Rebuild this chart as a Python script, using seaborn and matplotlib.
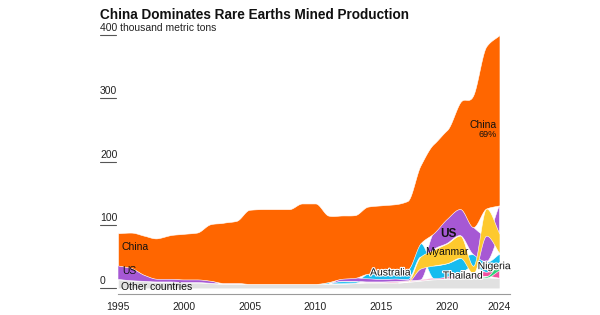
import numpy as np
import pandas as pd
import matplotlib
matplotlib.use("Agg")
import matplotlib.pyplot as plt
import matplotlib.transforms as mtransforms
import matplotlib.patheffects as pe
import seaborn as sns

# rare earths mine production, thousand metric tons
years = list(range(1995, 2025))
other = [14, 12, 11, 10, 10, 9, 9, 8, 7, 7, 7, 7, 7, 7, 7, 7, 7, 7, 8, 9,
         9, 9, 10, 12, 14, 15, 16, 16, 17, 16]
thailand = [0, 0, 0, 0, 0, 0, 0, 0, 1.5, 1.5, 0, 0, 0, 0, 0, 0, 0.8, 1, 1, 1,
            1, 1.6, 1.3, 1.2, 2, 3.6, 8.2, 7.1, 7.1, 13]
nigeria = [0] * 27 + [0.5, 2, 13]
australia = [0] * 16 + [2, 3, 2, 8, 10, 14, 16, 21, 20, 21, 24, 18, 16, 13]
myanmar = [0] * 22 + [0.5, 19, 25, 31, 35, 12, 43, 31]
us = [22, 20, 10, 5, 5, 5, 5, 4, 0, 0, 0, 0, 0, 0, 0, 0, 0, 4, 5.5, 5,
      4, 4, 2, 18, 26, 39, 42, 43, 41, 45]
china = [51, 56, 62, 64, 69, 72, 74, 89, 95, 98, 117, 118, 118, 118, 127, 127,
         105, 100, 99, 106, 107, 104, 108, 123, 141, 140, 168, 208, 256, 269]

colors = {
    "Other countries": "#e1e1e1",
    "Thailand": "#f0509f",
    "Nigeria": "#2fd27a",
    "Australia": "#17bcef",
    "US": "#a658d4",
    "Myanmar": "#fdc92e",
    "China": "#ff6600",
}
middle = ["Thailand", "Nigeria", "Australia", "US", "Myanmar"]

df = pd.DataFrame({"Other countries": other, "Thailand": thailand, "Nigeria": nigeria,
                   "Australia": australia, "US": us, "Myanmar": myanmar,
                   "China": china}, index=years, dtype=float)


def pchip(x, y, xf):
    # monotone cubic interpolation (Fritsch-Carlson)
    x = np.asarray(x, float)
    y = np.asarray(y, float)
    h = np.diff(x)
    d = np.diff(y) / h
    m = np.zeros_like(y)
    m[0], m[-1] = d[0], d[-1]
    for k in range(1, len(y) - 1):
        if d[k - 1] * d[k] > 0:
            w1 = 2 * h[k] + h[k - 1]
            w2 = h[k] + 2 * h[k - 1]
            m[k] = (w1 + w2) / (w1 / d[k - 1] + w2 / d[k])
    i = np.clip(np.searchsorted(x, xf) - 1, 0, len(x) - 2)
    t = (xf - x[i]) / h[i]
    h00 = 2 * t**3 - 3 * t**2 + 1
    h10 = t**3 - 2 * t**2 + t
    h01 = -2 * t**3 + 3 * t**2
    h11 = t**3 - t**2
    return h00 * y[i] + h10 * h[i] * m[i] + h01 * y[i + 1] + h11 * h[i] * m[i + 1]


# ranked stacking: other at the bottom, china on top, the rest sorted by size each year
bottoms = pd.DataFrame(0.0, index=years, columns=df.columns)
for yr in years:
    base = df.loc[yr, "Other countries"]
    for name in sorted(middle, key=lambda n: (df.loc[yr, n], middle.index(n))):
        bottoms.loc[yr, name] = base
        base += df.loc[yr, name]
    bottoms.loc[yr, "China"] = base

sns.set_theme(style="white")
plt.rcParams["font.family"] = ["Liberation Sans", "DejaVu Sans"]

fig = plt.figure(figsize=(6, 3.15), dpi=100)
ax = fig.add_axes([118 / 600, 21 / 315, 392 / 600, 259 / 315])

xf = np.linspace(1995, 2024, 900)
draw_order = ["Other countries", "Thailand", "Nigeria", "Australia", "US", "Myanmar", "China"]
for name in draw_order:
    b = pchip(years, bottoms[name].values, xf)
    t = np.clip(pchip(years, df[name].values, xf), 0, None)
    ax.fill_between(xf, b, b + t, where=t > 0.05, interpolate=True,
                    color=colors[name], lw=0.4, edgecolor="white")

ax.set_xlim(1995, 2024.8)
ax.set_ylim(-9, 400)

# x axis
ax.set_xticks([1995, 2000, 2005, 2010, 2015, 2020, 2024])
ax.tick_params(axis="x", direction="out", length=4, width=0.8, color="#9a9a9a",
               labelsize=7.5, labelcolor="#222222", pad=2)
ax.set_yticks([])
for s in ["left", "top", "right"]:
    ax.spines[s].set_visible(False)
ax.spines["bottom"].set_color("#9a9a9a")
ax.spines["bottom"].set_linewidth(0.8)

# y labels with short dashes
trans = mtransforms.blended_transform_factory(ax.transAxes, ax.transData)
trans_txt = mtransforms.offset_copy(trans, fig=fig, y=1.5, units="points")
ylabels = ["0", "100", "200", "300", "400 thousand metric tons"]
for v, lab in zip([0, 100, 200, 300, 400], ylabels):
    ax.plot([-0.046, -0.004], [v, v], transform=trans, color="#555555", lw=0.8,
            clip_on=False)
    ax.text(-0.046, v, lab, transform=trans_txt, ha="left", va="bottom",
            fontsize=7.5, color="#222222")

fig.text(100 / 600, 1 - 19 / 315, "China Dominates Rare Earths Mined Production",
         fontsize=9.8, fontweight="bold", color="#111111", va="baseline")

txt = dict(fontsize=7.5, color="#111111", va="center")
halo = [pe.withStroke(linewidth=1.6, foreground="white")]
ax.text(1995.3, 65, "China", ha="left", **txt)
ax.text(1995.3, 28, "US", ha="left", **txt)
ax.text(1995.2, 1.5, "Other countries", ha="left", **txt)
ax.text(2023.8, 258, "China", ha="right", **txt)
ax.text(2023.8, 243, "69%", ha="right", fontsize=6.5, color="#111111", va="center")
ax.text(2020.1, 86, "US", ha="center", fontsize=8.5, color="#111111", va="center",
        fontweight="bold")
ax.text(2020.0, 57, "Myanmar", ha="center", **txt)
ax.text(2015.7, 25, "Australia", ha="center", path_effects=halo, **txt)
ax.text(2021.2, 20, "Thailand", ha="center", path_effects=halo, **txt)
ax.text(2023.6, 35, "Nigeria", ha="center", path_effects=halo, **txt)

fig.savefig("out.png", dpi=100)
